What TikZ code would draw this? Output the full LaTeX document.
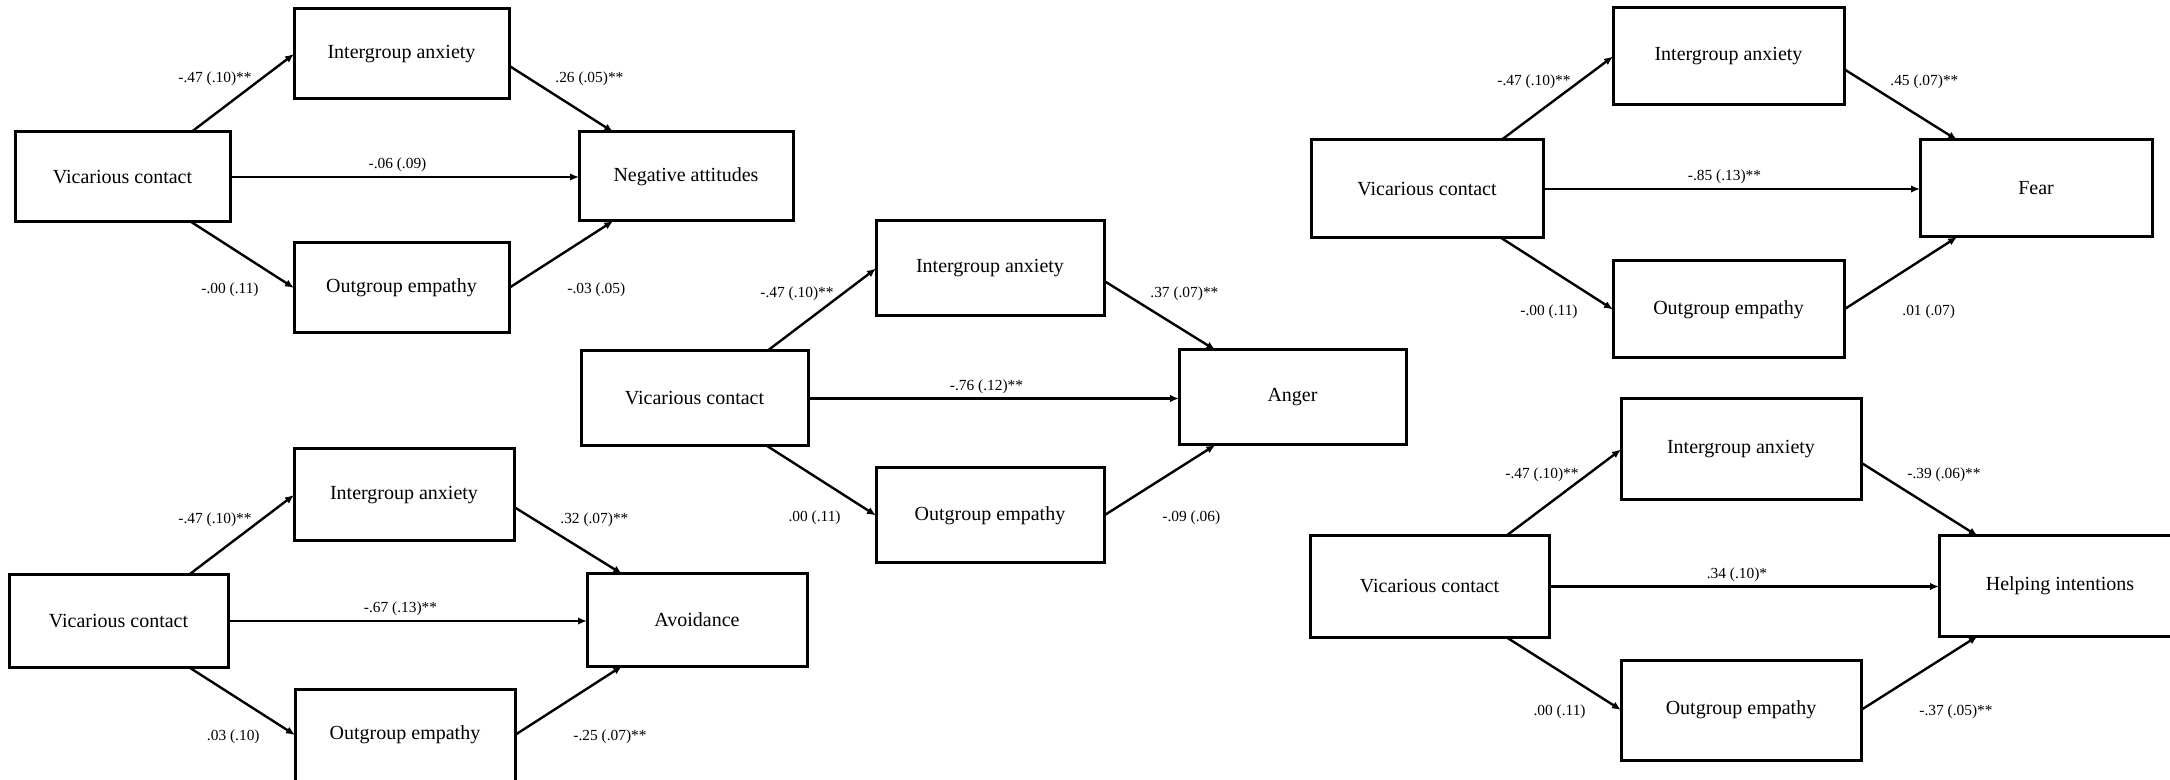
\documentclass[tikz,border=0pt]{standalone}
\usepackage{fontspec}
\setmainfont{Liberation Serif}
\usetikzlibrary{arrows.meta,calc}
\tikzset{
  box/.style={draw, line width=1.5pt, inner sep=0pt, outer sep=0pt, align=center, font=\fontsize{10}{12}\selectfont},
  conn/.style={line width=1.2pt, -{Latex[length=4.5pt,width=3.8pt]}},
  lab/.style={inner sep=0pt, font=\fontsize{7.7}{9}\selectfont},
}
\newcommand{\boxnode}[6]{%
  \node[box, minimum width={0.5pt*(#4-#2)}, minimum height={0.5pt*(#5-#3)}] (#1) at ({(#2+#4)/2},{(#3+#5)/2}) {#6};}
\newcommand{\medpaths}[6]{%
  \draw[conn] ($(#1vc.north west)!0.82!(#1vc.north east)$) -- (#1ia.west);
  \draw[conn] ($(#1ia.north east)!0.63!(#1ia.south east)$) -- ($(#1out.north west)!0.16!(#1out.north east)$);
  \draw[conn] (#1vc.east) -- (#1vc.east -| #1out.west);
  \draw[conn] ($(#1vc.south west)!0.82!(#1vc.south east)$) -- (#1oe.west);
  \draw[conn] (#1oe.east) -- ($(#1out.south west)!0.16!(#1out.south east)$);
  \node[lab, anchor=east] (#1la) at ($(#1ia.west)+(-42,25)$) {#2};
  \node[lab, anchor=west] (#1lb) at ($(#1ia.east)+(46,25)$) {#3};
  \node[lab] (#1lc) at ($($(#1vc.east)!0.5!(#1vc.east -| #1out.west)$)+(-7,-12)$) {#4};
  \node[lab, anchor=east] (#1ld) at ($(#1oe.west)+(-35,2)$) {#5};
  \node[lab, anchor=west] (#1le) at ($(#1oe.east)+(58,2)$) {#6};
}
\begin{document}
\begin{tikzpicture}[x=0.5pt,y=-0.5pt]
\path[fill=white, use as bounding box] (0,0) rectangle (2170,780);
% top left
\boxnode{tlvc}{15}{132}{230}{222}{Vicarious contact}
\boxnode{tlia}{294}{9}{509}{99}{Intergroup anxiety}
\boxnode{tlout}{579}{132}{793}{221}{Negative attitudes}
\boxnode{tloe}{294}{243}{509}{333}{Outgroup empathy}
\medpaths{tl}{-.47 (.10)**}{.26 (.05)**}{-.06 (.09)}{-.00 (.11)}{-.03 (.05)}
% bottom left
\boxnode{blvc}{9}{575}{228}{667}{Vicarious contact}
\boxnode{blia}{294}{449}{514}{541}{Intergroup anxiety}
\boxnode{blout}{587}{574}{807}{666}{Avoidance}
\boxnode{bloe}{295}{689}{515}{781}{Outgroup empathy}
\medpaths{bl}{-.47 (.10)**}{.32 (.07)**}{-.67 (.13)**}{.03 (.10)}{-.25 (.07)**}
% centre
\boxnode{cvc}{581}{351}{808}{446}{Vicarious contact}
\boxnode{cia}{876}{221}{1104}{316}{Intergroup anxiety}
\boxnode{cout}{1179}{350}{1406}{445}{Anger}
\boxnode{coe}{876}{468}{1104}{563}{Outgroup empathy}
\medpaths{c}{-.47 (.10)**}{.37 (.07)**}{-.76 (.12)**}{.00 (.11)}{-.09 (.06)}
% top right
\boxnode{trvc}{1311}{140}{1543}{238}{Vicarious contact}
\boxnode{tria}{1613}{8}{1844}{105}{Intergroup anxiety}
\boxnode{trout}{1920}{140}{2152}{237}{Fear}
\boxnode{troe}{1613}{261}{1844}{358}{Outgroup empathy}
\medpaths{tr}{-.47 (.10)**}{.45 (.07)**}{-.85 (.13)**}{-.00 (.11)}{.01 (.07)}
% bottom right
\boxnode{brvc}{1310}{536}{1549}{637}{Vicarious contact}
\boxnode{bria}{1621}{399}{1861}{500}{Intergroup anxiety}
\boxnode{brout}{1939}{536}{2181}{636}{Helping intentions}
\boxnode{broe}{1621}{660}{1861}{760}{Outgroup empathy}
\medpaths{br}{-.47 (.10)**}{-.39 (.06)**}{.34 (.10)*}{.00 (.11)}{-.37 (.05)**}
\end{tikzpicture}
\end{document}
